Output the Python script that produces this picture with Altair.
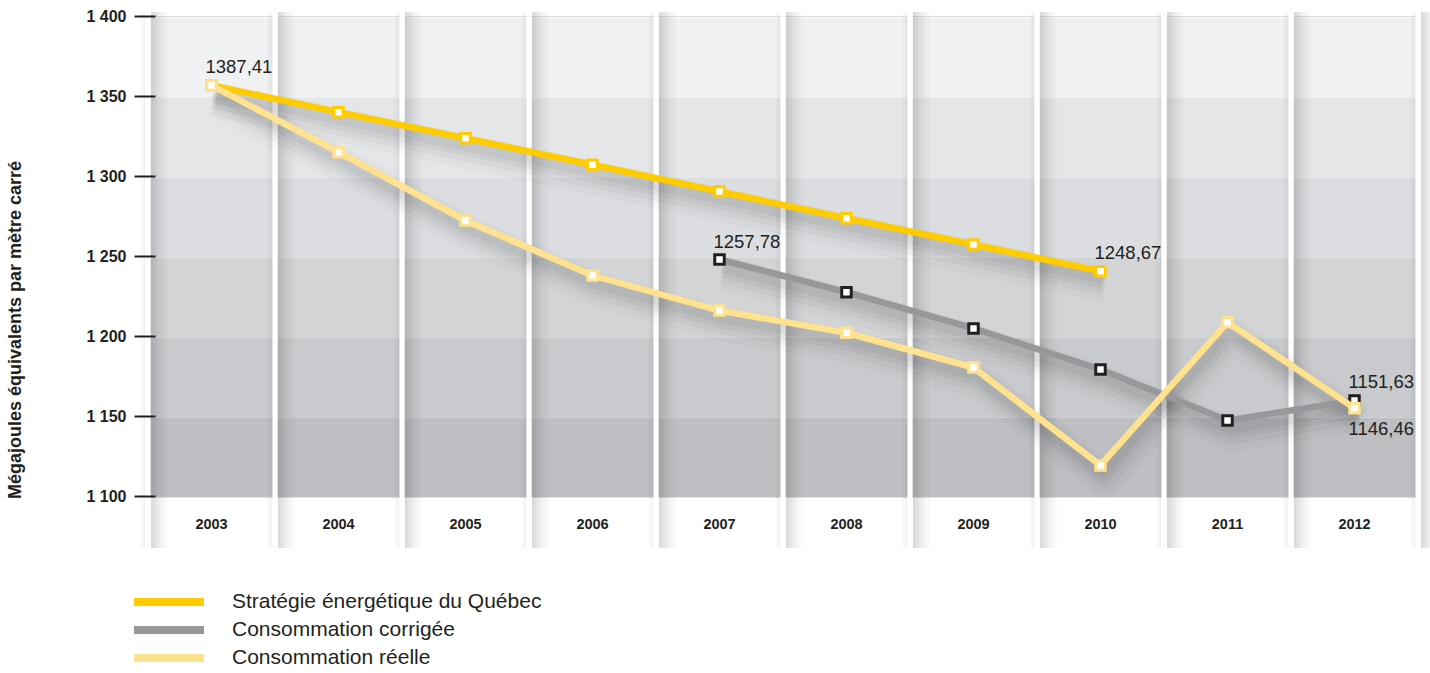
import altair as alt
import pandas as pd

# ---------------- data ----------------
years = ["2003", "2004", "2005", "2006", "2007", "2008", "2009", "2010", "2011", "2012"]
series_names = ["Stratégie énergétique du Québec", "Consommation corrigée", "Consommation réelle"]
line_colors = ["#ffcc00", "#98989c", "#ffe28f"]
marker_strokes = ["#ffcc00", "#231f20", "#ffe28f"]

strategie_years = ["2003", "2004", "2005", "2006", "2007", "2008", "2009", "2010"]
strategie_values = [1356.6, 1339.9, 1323.6, 1307.0, 1290.3, 1273.6, 1257.2, 1240.5]

corrigee_years = ["2007", "2008", "2009", "2010", "2011", "2012"]
corrigee_values = [1247.8, 1227.4, 1204.7, 1179.1, 1147.2, 1159.7]

reelle_years = ["2003", "2004", "2005", "2006", "2007", "2008", "2009", "2010", "2011", "2012"]
reelle_values = [1356.6, 1314.9, 1272.2, 1237.8, 1215.9, 1202.0, 1180.3, 1119.1, 1208.6, 1154.9]

band_lows = [1350, 1300, 1250, 1200, 1150, 1100]
band_highs = [1400, 1350, 1300, 1250, 1200, 1150]
band_colors = ["#f0f1f3", "#e5e6e8", "#dcdde0", "#d3d4d6", "#c9cacd", "#bebfc2"]

y_ticks = [1100, 1150, 1200, 1250, 1300, 1350, 1400]
y_tick_labels = ["1 100", "1 150", "1 200", "1 250", "1 300", "1 350", "1 400"]

label_texts = ["1387,41", "1257,78", "1248,67", "1151,63", "1146,46"]
label_years = ["2003", "2007", "2010", "2012", "2012"]
label_values = [1356.6, 1247.8, 1240.5, 1159.7, 1154.9]
label_places = ["above", "above", "above", "above", "below"]

y_title = "Mégajoules équivalents par mètre carré"

# ---------------- frames ----------------
rows = []
for name, ys, vs in zip(series_names,
                        [strategie_years, corrigee_years, reelle_years],
                        [strategie_values, corrigee_values, reelle_values]):
    for yr, v in zip(ys, vs):
        rows.append({"series": name, "year": yr, "value": v})
lines_df = pd.DataFrame(rows)

bands_df = pd.DataFrame({"lo": band_lows, "hi": band_highs, "col": band_colors})
sep_df = pd.DataFrame({"year": years})
labels_df = pd.DataFrame({"text": label_texts, "year": label_years,
                          "value": label_values, "place": label_places})
title_df = pd.DataFrame({"t": [y_title]})

FONT = "Liberation Sans"
DARK = "#231f20"
W, H = 1270, 480

x_scale = alt.Scale(type="band", domain=years, paddingInner=0, paddingOuter=0)
y_scale = alt.Scale(domain=[1100, 1400], nice=False, zero=False)
color_scale = alt.Scale(domain=series_names, range=line_colors)
stroke_scale = alt.Scale(domain=series_names, range=marker_strokes)

label_expr = " : ".join(
    f"datum.value == {v} ? '{t}'" for v, t in zip(y_ticks, y_tick_labels)
) + " : ''"

x_axis = alt.Axis(title=None, ticks=False, domain=False, grid=False, bandPosition=0.5,
                  labelFont=FONT, labelFontSize=14.5, labelFontWeight="bold",
                  labelColor=DARK, labelAngle=0, labelAlign="center",
                  labelBaseline="middle", labelPadding=28)
y_axis = alt.Axis(title=None, values=y_ticks, labelExpr=label_expr,
                  domain=False, grid=False, offset=-7, tickSize=21,
                  tickWidth=2, tickColor=DARK, labelFont=FONT,
                  labelFontSize=16, labelFontWeight="bold",
                  labelColor=DARK, labelPadding=8, zindex=1)

# background bands (carries the y axis)
bands = alt.Chart(bands_df).mark_rect(yOffset=1.5, y2Offset=1.5).encode(
    y=alt.Y("hi:Q", scale=y_scale, axis=y_axis),
    y2="lo:Q",
    fill=alt.Fill("col:N", scale=None, legend=None),
)


def sep_base(last):
    base = alt.Chart(sep_df)
    if last:
        base = base.transform_filter(alt.datum.year == years[-1])
    return base


# separator shadows + white separators
sep_layers = []
shadow_specs = [(-6, 3, 0.025), (-3.5, 2, 0.05), (4, 2, 0.14), (6, 2, 0.12), (8, 2, 0.10),
                (10, 2, 0.08), (12, 2, 0.06), (14, 2, 0.045), (16, 2, 0.032), (18.5, 3, 0.02)]
first = True
for off, sw, op in shadow_specs:
    for bp, last in [(0, False), (1, True)]:
        if first:
            enc_x = alt.X("year:N", scale=x_scale, bandPosition=bp, axis=x_axis)
            first = False
        else:
            enc_x = alt.X("year:N", scale=x_scale, bandPosition=bp)
        sep_layers.append(sep_base(last).mark_rule(
            color="black", opacity=op, strokeWidth=sw, xOffset=off).encode(
            x=enc_x, y=alt.value(-4), y2=alt.value(532)))
for bp, last in [(0, False), (1, True)]:
    sep_layers.append(sep_base(last).mark_rule(color="white", strokeWidth=5).encode(
        x=alt.X("year:N", scale=x_scale, bandPosition=bp),
        y=alt.value(-6), y2=alt.value(529)))

# line shadows
shadow_layers = []
for sw, op, yo, xo in [(34, 0.025, 14, 5), (24, 0.035, 12, 4), (16, 0.045, 10, 3), (10, 0.045, 8, 2)]:
    shadow_layers.append(alt.Chart(lines_df).mark_line(
        color="black", opacity=op, strokeWidth=sw, yOffset=yo, xOffset=xo,
        strokeJoin="round", strokeCap="butt").encode(
        x=alt.X("year:N", scale=x_scale),
        y=alt.Y("value:Q", scale=y_scale),
        detail="series:N"))

# lines + markers per series
series_layers = []
for name in series_names:
    sub = alt.Chart(lines_df).transform_filter(alt.datum.series == name)
    series_layers.append(sub.mark_line(strokeWidth=6.5, strokeJoin="miter").encode(
        x=alt.X("year:N", scale=x_scale),
        y=alt.Y("value:Q", scale=y_scale),
        color=alt.Color("series:N", scale=color_scale, sort=series_names,
                        legend=alt.Legend(title=None, orient="none", legendX=-18, legendY=572,
                                          symbolType="stroke", symbolSize=4900,
                                          symbolStrokeWidth=8, labelFont=FONT,
                                          labelFontSize=21, labelColor=DARK,
                                          labelOffset=24, rowPadding=0, labelLimit=600,
                                          clipHeight=28, padding=0))))
    series_layers.append(sub.mark_square(size=90, fill="white", opacity=1,
                                         strokeWidth=3).encode(
        x=alt.X("year:N", scale=x_scale),
        y=alt.Y("value:Q", scale=y_scale),
        stroke=alt.Stroke("series:N", scale=stroke_scale, legend=None)))

# data labels
lab_above = alt.Chart(labels_df).transform_filter(alt.datum.place == "above").mark_text(
    align="left", baseline="middle", dx=-6, dy=-18, font=FONT, fontSize=18.5, color=DARK).encode(
    x=alt.X("year:N", scale=x_scale), y=alt.Y("value:Q", scale=y_scale), text="text:N")
lab_below = alt.Chart(labels_df).transform_filter(alt.datum.place == "below").mark_text(
    align="left", baseline="middle", dx=-6, dy=21, font=FONT, fontSize=18.5, color=DARK).encode(
    x=alt.X("year:N", scale=x_scale), y=alt.Y("value:Q", scale=y_scale), text="text:N")

title = alt.Chart(title_df).mark_text(angle=270, font=FONT, fontSize=18, fontWeight="bold",
                                      color=DARK, baseline="middle", align="center").encode(
    text="t:N", x=alt.value(-132), y=alt.value(314))

chart = alt.layer(
    bands, *sep_layers, *shadow_layers, *series_layers, lab_above, lab_below, title
).properties(
    width=W, height=H,
    autosize=alt.AutoSizeParams(type="none"),
    padding={"left": 148, "top": 16, "right": 12, "bottom": 177},
).configure_view(stroke=None).configure(background="white")

chart.save("out.html", embed_options={"renderer": "svg", "actions": False})
